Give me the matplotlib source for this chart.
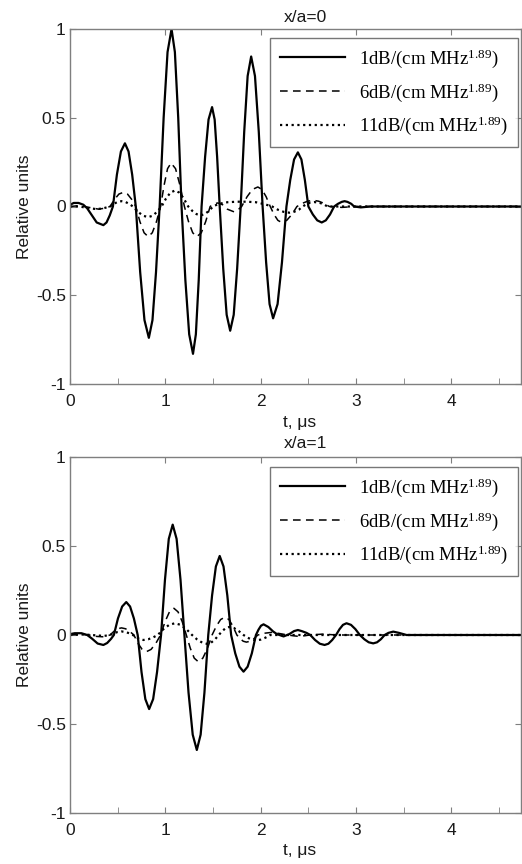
import numpy as np
import matplotlib
matplotlib.use("Agg")
import matplotlib.pyplot as plt

plt.rcParams['font.family'] = ['Liberation Sans', 'DejaVu Sans']
plt.rcParams['axes.unicode_minus'] = False
plt.rcParams['mathtext.fontset'] = 'custom'
plt.rcParams['mathtext.rm'] = 'Liberation Serif'
plt.rcParams['mathtext.it'] = 'Liberation Serif:italic'

# ---- x/a = 0 ----
t_s0 = [0.0, 0.04, 0.09, 0.14, 0.18, 0.23, 0.28, 0.35, 0.383, 0.417, 0.45,
        0.492, 0.534, 0.576, 0.614, 0.652, 0.69,
        0.736, 0.781, 0.827, 0.865, 0.902, 0.94,
        0.982, 1.023, 1.065, 1.10, 1.135, 1.17,
        1.21, 1.25, 1.29, 1.32, 1.35, 1.38,
        1.417, 1.453, 1.49, 1.517, 1.543, 1.57,
        1.607, 1.643, 1.68, 1.717, 1.753, 1.79,
        1.827, 1.863, 1.90, 1.94, 1.98, 2.02,
        2.057, 2.093, 2.13, 2.177, 2.223, 2.27,
        2.31, 2.35, 2.39, 2.427, 2.463, 2.50,
        2.547, 2.593, 2.64, 2.683, 2.727, 2.77,
        2.81, 2.85, 2.88, 2.91, 2.95, 2.98, 3.05, 3.15, 4.75]
y_s0 = [0.01, 0.02, 0.02, 0.01, -0.01, -0.05, -0.09, -0.105, -0.09, -0.05, 0.0,
        0.18, 0.31, 0.356, 0.31, 0.18, 0.0,
        -0.37, -0.64, -0.74, -0.64, -0.37, 0.0,
        0.5, 0.87, 1.0, 0.87, 0.5, 0.0,
        -0.415, -0.72, -0.83, -0.72, -0.415, 0.0,
        0.28, 0.49, 0.56, 0.49, 0.28, 0.0,
        -0.35, -0.61, -0.70, -0.61, -0.35, 0.0,
        0.42, 0.735, 0.845, 0.735, 0.42, 0.0,
        -0.315, -0.55, -0.63, -0.55, -0.315, 0.0,
        0.15, 0.265, 0.305, 0.265, 0.15, 0.0,
        -0.045, -0.078, -0.09, -0.078, -0.045, 0.0,
        0.015, 0.026, 0.03, 0.026, 0.015, 0.0, -0.005, 0.0, 0.0]

t_d0 = [0.0, 0.1, 0.2, 0.3, 0.36, 0.42,
        0.467, 0.513, 0.56, 0.603, 0.647, 0.69,
        0.733, 0.777, 0.82, 0.863, 0.907, 0.95,
        0.987, 1.023, 1.06, 1.107, 1.153, 1.20,
        1.243, 1.287, 1.33, 1.377, 1.423, 1.47,
        1.51, 1.55, 1.60, 1.65, 1.72, 1.76, 1.80,
        1.857, 1.913, 1.97, 2.013, 2.057, 2.10,
        2.14, 2.18, 2.22, 2.273, 2.327, 2.38,
        2.437, 2.493, 2.55, 2.607, 2.663, 2.72, 2.85, 3.0, 4.75]
y_d0 = [0.0, 0.005, -0.005, -0.015, -0.01, 0.0,
        0.04, 0.07, 0.08, 0.07, 0.04, 0.0,
        -0.085, -0.148, -0.17, -0.148, -0.085, 0.0,
        0.12, 0.213, 0.245, 0.213, 0.12, 0.0,
        -0.085, -0.148, -0.17, -0.148, -0.085, 0.0,
        0.015, 0.02, 0.01, -0.015, -0.03, -0.02, 0.0,
        0.055, 0.096, 0.11, 0.096, 0.055, 0.0,
        -0.045, -0.078, -0.09, -0.078, -0.045, 0.0,
        0.018, 0.03, 0.035, 0.03, 0.018, 0.0, -0.005, 0.0, 0.0]

t_p0 = [0.0, 0.1, 0.18, 0.28, 0.35, 0.42,
        0.46, 0.50, 0.54, 0.58, 0.62, 0.66,
        0.713, 0.767, 0.82, 0.867, 0.913, 0.96,
        1.007, 1.053, 1.10, 1.147, 1.193, 1.24,
        1.283, 1.327, 1.37, 1.413, 1.457, 1.50,
        1.56, 1.65, 1.75, 1.85, 1.95, 2.04, 2.12,
        2.18, 2.24, 2.30, 2.35, 2.40, 2.44,
        2.48, 2.52, 2.56, 2.61, 2.66, 2.70, 2.85, 4.75]
y_p0 = [0.0, 0.0, -0.008, -0.015, -0.01, 0.0,
        0.015, 0.026, 0.03, 0.026, 0.015, 0.0,
        -0.03, -0.052, -0.06, -0.052, -0.03, 0.0,
        0.045, 0.078, 0.09, 0.078, 0.045, 0.0,
        -0.025, -0.043, -0.05, -0.043, -0.025, 0.0,
        0.015, 0.024, 0.027, 0.027, 0.024, 0.013, 0.0,
        -0.018, -0.03, -0.035, -0.03, -0.018, 0.0,
        0.013, 0.022, 0.025, 0.022, 0.013, 0.0, 0.0, 0.0]

# ---- x/a = 1 ----
t_s1 = [0.0, 0.05, 0.12, 0.18, 0.23, 0.29, 0.35, 0.39, 0.43, 0.46,
        0.503, 0.547, 0.59, 0.63, 0.67, 0.71,
        0.75, 0.79, 0.83, 0.872, 0.913, 0.955,
        0.996, 1.036, 1.077, 1.118, 1.159, 1.20,
        1.243, 1.287, 1.33, 1.37, 1.41, 1.45,
        1.49, 1.53, 1.57, 1.61, 1.65, 1.69,
        1.733, 1.777, 1.82, 1.863, 1.907, 1.95,
        1.977, 2.003, 2.03, 2.08, 2.13, 2.17, 2.24, 2.30, 2.35, 2.39, 2.43, 2.48, 2.52,
        2.57, 2.62, 2.67, 2.71, 2.75, 2.79,
        2.827, 2.863, 2.90, 2.947, 2.993, 3.04,
        3.087, 3.133, 3.18, 3.22, 3.26, 3.30,
        3.34, 3.39, 3.45, 3.53, 3.7, 4.75]
y_s1 = [0.005, 0.01, 0.01, 0.0, -0.02, -0.048, -0.056, -0.045, -0.022, 0.0,
        0.093, 0.16, 0.185, 0.16, 0.093, 0.0,
        -0.208, -0.36, -0.416, -0.36, -0.208, 0.0,
        0.31, 0.54, 0.62, 0.54, 0.31, 0.0,
        -0.323, -0.56, -0.646, -0.56, -0.323, 0.0,
        0.222, 0.385, 0.444, 0.385, 0.222, 0.0,
        -0.103, -0.178, -0.206, -0.178, -0.103, 0.0,
        0.03, 0.052, 0.06, 0.045, 0.02, 0.005, -0.008, 0.005, 0.022, 0.028, 0.022, 0.012, 0.0,
        -0.028, -0.049, -0.056, -0.049, -0.028, 0.0,
        0.033, 0.057, 0.066, 0.057, 0.033, 0.0,
        -0.024, -0.041, -0.047, -0.041, -0.024, 0.0,
        0.012, 0.019, 0.012, 0.0, 0.0, 0.0]

t_d1 = [0.0, 0.1, 0.2, 0.28, 0.34, 0.38, 0.42,
        0.46, 0.50, 0.54, 0.583, 0.627, 0.67,
        0.713, 0.757, 0.80, 0.85, 0.90, 0.95,
        0.997, 1.043, 1.09, 1.133, 1.177, 1.22,
        1.262, 1.303, 1.345, 1.393, 1.442, 1.49,
        1.535, 1.58, 1.625, 1.667, 1.708, 1.75,
        1.783, 1.817, 1.85, 1.89, 1.93, 1.97,
        2.04, 2.12, 2.2, 2.28, 2.4, 2.52, 2.65, 2.8, 4.75]
y_d1 = [0.0, 0.005, 0.0, -0.008, -0.01, -0.006, 0.0,
        0.02, 0.035, 0.04, 0.035, 0.02, 0.0,
        -0.047, -0.081, -0.094, -0.081, -0.047, 0.0,
        0.075, 0.13, 0.15, 0.13, 0.075, 0.0,
        -0.075, -0.13, -0.15, -0.13, -0.075, 0.0,
        0.05, 0.087, 0.10, 0.087, 0.05, 0.0,
        -0.02, -0.035, -0.04, -0.035, -0.02, 0.0,
        0.01, 0.015, 0.008, 0.0, -0.008, 0.0, 0.005, 0.0, 0.0]

t_p1 = [0.0, 0.15, 0.3, 0.36, 0.42,
        0.46, 0.50, 0.54, 0.58, 0.62, 0.66,
        0.697, 0.733, 0.77, 0.82, 0.87, 0.92,
        0.98, 1.04, 1.10, 1.16, 1.22, 1.28,
        1.333, 1.387, 1.44, 1.48, 1.52, 1.56,
        1.597, 1.633, 1.67, 1.72, 1.77, 1.82,
        1.863, 1.907, 1.95, 2.0, 2.05, 2.10, 4.75]
y_p1 = [0.0, 0.003, -0.003, -0.005, 0.0,
        0.01, 0.017, 0.02, 0.017, 0.01, 0.0,
        -0.014, -0.024, -0.028, -0.024, -0.014, 0.0,
        0.033, 0.057, 0.066, 0.057, 0.033, 0.0,
        -0.025, -0.043, -0.05, -0.043, -0.025, 0.0,
        0.022, 0.039, 0.045, 0.039, 0.022, 0.0,
        -0.015, -0.026, -0.03, -0.026, -0.015, 0.0, 0.0]

labels = [r'1dB/(cm MHz$^{1.89}$)', r'6dB/(cm MHz$^{1.89}$)', r'11dB/(cm MHz$^{1.89}$)']
titles = ['x/a=0', 'x/a=1']

W, H = 522, 864
fig = plt.figure(figsize=(W / 100, H / 100), dpi=100)

def px_axes(left, top, right, bottom):
    return fig.add_axes([left / W, 1 - bottom / H, (right - left) / W, (bottom - top) / H])

panels = [
    (px_axes(70, 29, 521, 384), [(t_s0, y_s0), (t_d0, y_d0), (t_p0, y_p0)], titles[0], 18, 38),
    (px_axes(70, 457, 521, 813), [(t_s1, y_s1), (t_d1, y_d1), (t_p1, y_p1)], titles[1], 444, 467),
]

spine_col = '#7f7f7f'
styles = [dict(ls='-', lw=1.6), dict(ls=(0, (5, 3.5)), lw=1.1), dict(ls=(0, (1, 1.6)), lw=1.6)]

for ax, series, title, title_y, leg_top in panels:
    for (t, y), st, lab in zip(series, styles, labels):
        ax.plot(t, y, color='black', label=lab, **st)
    ax.set_xlim(0, 4.73)
    ax.set_ylim(-1, 1)
    ax.set_xticks([0, 1, 2, 3, 4])
    ax.set_xticks(np.arange(0.5, 4.6, 1.0), minor=True)
    ax.set_yticks([-1, -0.5, 0, 0.5, 1])
    ax.set_yticklabels(['-1', '-0.5', '0', '0.5', '1'])
    ax.tick_params(which='both', direction='in', top=True, right=True,
                   color=spine_col, labelsize=12.5, labelcolor='#1a1a1a')
    ax.tick_params(axis='x', which='major', length=4, pad=7)
    ax.tick_params(axis='x', which='minor', length=4, top=False)
    ax.tick_params(axis='y', length=4, pad=3)
    for s in ax.spines.values():
        s.set_color(spine_col)
        s.set_linewidth(1.0)
    ax.set_ylabel('Relative units', fontsize=12.5, color='#1a1a1a', labelpad=3)

    # title and x label sit slightly right of the axes centre
    fig.text(305 / W, 1 - title_y / H, title, ha='center', va='center',
             fontsize=12.5, color='#1a1a1a')
    bot_px = (1 - ax.get_position().y0) * H
    fig.text(300 / W, 1 - (bot_px + 38) / H, 't, μs', ha='center', va='center',
             fontsize=12.5, color='#1a1a1a')

    ax_top = (1 - ax.get_position().y1) * H
    ax_h = ax.get_position().height * H
    leg = ax.legend(loc='upper right',
                    bbox_to_anchor=((518 - 70) / 451, 1 - (leg_top - ax_top) / ax_h),
                    borderaxespad=0, frameon=True, fancybox=False,
                    prop={'family': 'Liberation Serif', 'size': 13.5},
                    handlelength=3.5, handletextpad=0.75, borderpad=0.5,
                    labelspacing=0.6)
    leg.get_frame().set_edgecolor('#555555')
    leg.get_frame().set_linewidth(1.0)

fig.savefig('out.png', dpi=100)
